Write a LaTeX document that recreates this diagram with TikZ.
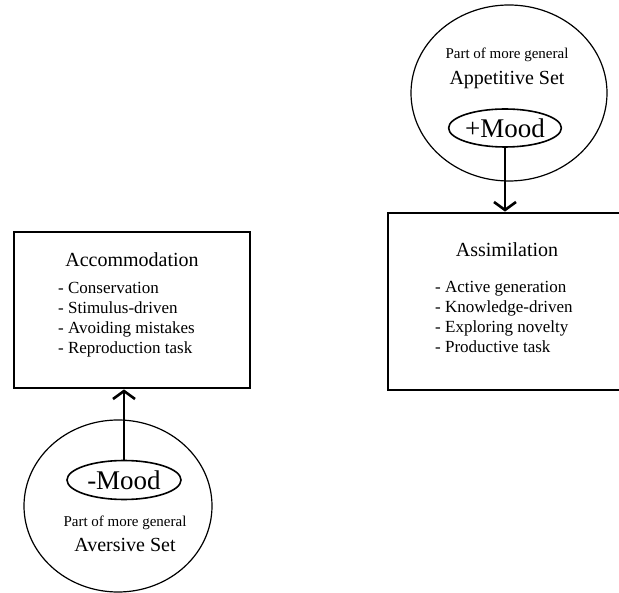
\documentclass[tikz,border=0pt]{standalone}
\usepackage{fontspec}
\setmainfont{Liberation Serif}
\usetikzlibrary{positioning, arrows.meta, shapes.geometric}

\tikzset{
  stagebox/.style={draw, line width=2.8pt, inner sep=0pt},
  stagetitle/.style={font=\fontsize{20}{24}\selectfont},
  stageitems/.style={font=\fontsize{17}{20}\selectfont, align=left, inner sep=0pt},
  setoval/.style={draw, ellipse, line width=1.2pt, inner sep=0pt},
  moodoval/.style={draw, ellipse, line width=1.6pt, inner sep=0pt, font=\fontsize{27}{30}\selectfont},
  setsmall/.style={font=\fontsize{15}{17}\selectfont, inner sep=0pt},
  setname/.style={font=\fontsize{20}{22}\selectfont, inner sep=0pt},
  moodarrow/.style={line width=2.8pt, -{Straight Barb[length=8pt, width=22pt, line width=2.6pt]}}
}

\begin{document}
\begin{tikzpicture}[x=1pt, y=-1pt]
        \useasboundingbox (0,0) rectangle (619,593);
        \clip (0,0) rectangle (619,593);

        \node[stagebox, minimum width=236pt, minimum height=156pt] (acc) at (132,310) {};
        \node[stagetitle] (acctitle) at (132,260) {Accommodation};
        \node[stageitems, anchor=west] (accitems) at (58,320)
          {- Conservation\\ - Stimulus-driven\\ - Avoiding mistakes\\ - Reproduction task};

        \node[stagebox, minimum width=238pt, minimum height=177pt] (asm) at (507,301.5) {};
        \node[stagetitle] (asmtitle) at (507,250) {Assimilation};
        \node[stageitems, anchor=west] (asmitems) at (435,317)
          {- Active generation\\ - Knowledge-driven\\ - Exploring novelty\\ - Productive task};

        \node[setoval, minimum width=196pt, minimum height=176pt] (app) at (509,93) {};
        \node[setsmall] (apppart) at (507,55) {Part of more general};
        \node[setname] (appname) at (507,80) {Appetitive Set};
        \node[moodoval, minimum width=104pt, minimum height=38pt] (pmood) at (505,128) {+Mood};

        \node[setoval, minimum width=188pt, minimum height=172pt] (avr) at (118,506) {};
        \node[moodoval, minimum width=114pt, minimum height=39pt] (nmood) at (124,480) {-Mood};
        \node[setsmall] (avrpart) at (125,523) {Part of more general};
        \node[setname] (avrname) at (125,545) {Aversive Set};

        \draw[moodarrow] (pmood.south) -- (pmood.south |- asm.north);
        \draw[moodarrow] (nmood.north) -- (nmood.north |- acc.south);
      \end{tikzpicture}
\end{document}
